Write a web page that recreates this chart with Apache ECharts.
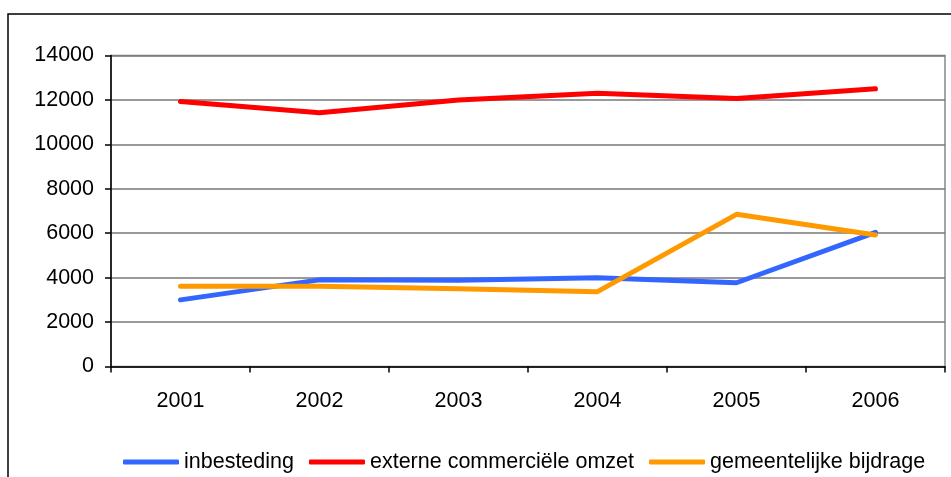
<!DOCTYPE html>
<html>
<head>
<meta charset="utf-8">
<script src="https://cdn.jsdelivr.net/npm/echarts@6/dist/echarts.min.js"></script>
<style>
  html, body { margin: 0; padding: 0; background: #fff; }
  #chart { width: 951px; height: 477px; }
</style>
</head>
<body>
<div id="chart"></div>
<script>
    var years = ['2001', '2002', '2003', '2004', '2005', '2006'];
    var inbesteding = [3000, 3900, 3880, 4000, 3770, 6040];
    var externeOmzet = [11930, 11420, 12000, 12300, 12060, 12500];
    var gemeentelijkeBijdrage = [3610, 3610, 3500, 3370, 6850, 5920];
    var yTicks = { min: 0, max: 14000, interval: 2000 };

    var font = 'Liberation Sans';
    var chart = echarts.init(document.getElementById('chart'));

    function lineSeries(name, data, color) {
        return {
            name: name,
            type: 'line',
            data: data,
            symbol: 'none',
            color: color,
            lineStyle: { width: 5, color: color, cap: 'round', join: 'round' }
        };
    }

    var option = {
        animation: false,
        backgroundColor: '#fff',
        graphic: [{
            type: 'rect',
            shape: { x: 8, y: 14, width: 960, height: 480 },
            style: { fill: 'none', stroke: '#000', lineWidth: 1.5 },
            z: -1
        }],
        grid: {
            left: 111, right: 6, top: 55.5, bottom: 110.5,
            show: true, borderColor: '#888', borderWidth: 1.5
        },
        legend: {
            bottom: -1,
            left: 118,
            icon: 'roundRect',
            itemWidth: 56,
            itemHeight: 5,
            itemGap: 15,
            textStyle: { fontFamily: font, fontSize: 21.5, color: '#000' },
            data: ['inbesteding', 'externe commerciële omzet', 'gemeentelijke bijdrage']
        },
        xAxis: {
            type: 'category',
            data: years,
            boundaryGap: true,
            axisLine: { lineStyle: { color: '#000', width: 1.5 } },
            axisTick: { show: true, interval: 0, length: 6, lineStyle: { color: '#000', width: 1.5 } },
            axisLabel: { fontFamily: font, fontSize: 21.5, color: '#000', margin: 24 },
            splitLine: { show: false }
        },
        yAxis: {
            type: 'value',
            min: yTicks.min,
            max: yTicks.max,
            interval: yTicks.interval,
            axisLine: { show: true, lineStyle: { color: '#000', width: 1.5 } },
            axisTick: { show: true, length: 6, lineStyle: { color: '#000', width: 1.5 } },
            axisLabel: {
                fontFamily: font, fontSize: 21.5, color: '#000', margin: 17,
                formatter: function (v) { return String(v); }
            },
            splitLine: { show: true, lineStyle: { color: '#777', width: 1.5 } }
        },
        series: [
            lineSeries('inbesteding', inbesteding, '#3366ff'),
            lineSeries('externe commerciële omzet', externeOmzet, '#ff0000'),
            lineSeries('gemeentelijke bijdrage', gemeentelijkeBijdrage, '#ff9900')
        ]
    };
    chart.setOption(option);
</script>
</body>
</html>
